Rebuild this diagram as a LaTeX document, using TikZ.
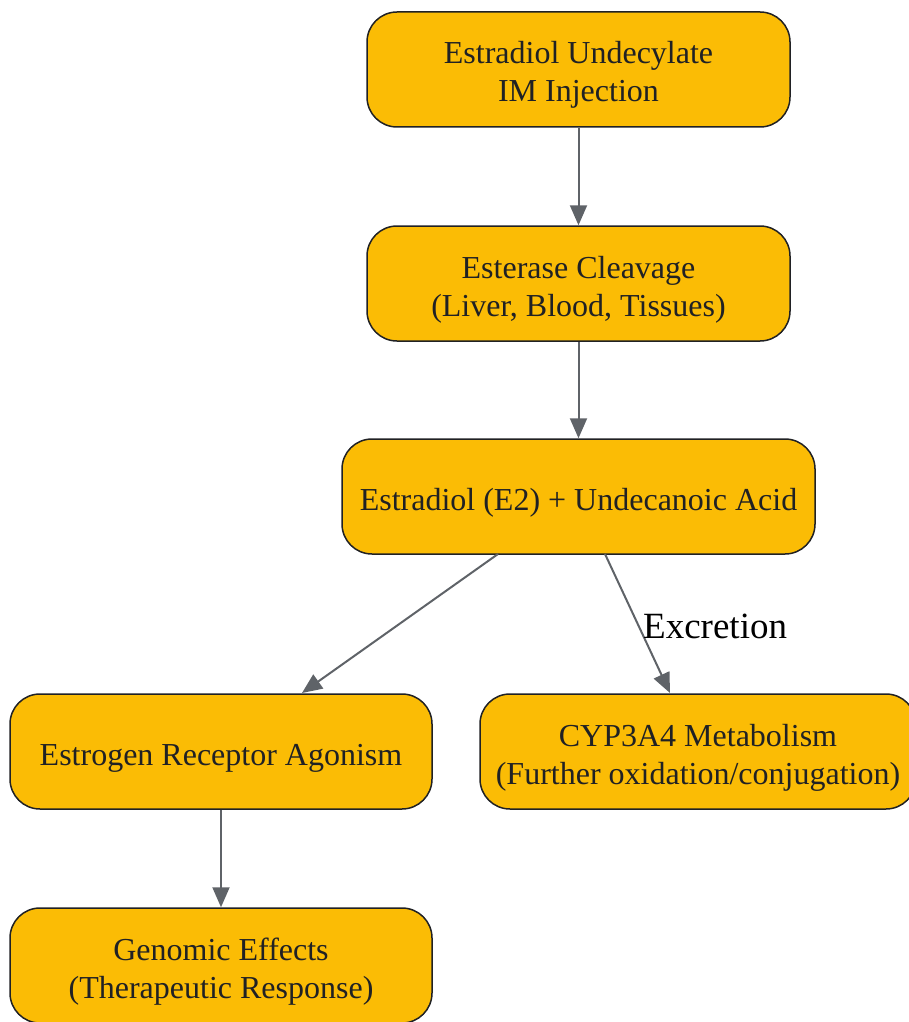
\documentclass[tikz,border=0pt]{standalone}
\usepackage{fontspec}
\setmainfont{Liberation Serif}
\usetikzlibrary{arrows.meta}
\definecolor{boxfill}{HTML}{FBBC05}
\definecolor{boxline}{HTML}{202124}
\definecolor{arrowc}{HTML}{5F6368}
\newcommand\mytopst{\rule{0pt}{36pt}}
\newcommand\mybotst{\rule[-9pt]{0pt}{9pt}}
\tikzset{
  proc/.style={draw=boxline, line width=1.5pt, fill=boxfill, rounded corners=30pt,
    minimum height=115pt, align=center, text=boxline, inner sep=0pt,
    font=\fontsize{32}{38}\selectfont},
  flow/.style={draw=arrowc, line width=2pt, -{Triangle[length=20pt,width=17pt]}},
  lbl/.style={font=\fontsize{37}{40}\selectfont, text=black, inner sep=0pt}
}
\begin{document}
\begin{tikzpicture}[x=1pt,y=-1pt]
\useasboundingbox (0,0) rectangle (908,1022);
\node[proc, minimum width=423pt] (a) at (578.5,69.5) {\mytopst Estradiol Undecylate\\IM Injection\mybotst};
\node[proc, minimum width=423pt] (b) at (578.5,283.5) {\mytopst Esterase Cleavage\\(Liver, Blood, Tissues)\mybotst};
\node[proc, minimum width=473pt] (c) at (578.5,496.5) {\mytopst Estradiol (E2) + Undecanoic Acid\mybotst};
\node[proc, minimum width=422pt] (d) at (221,751.5) {\mytopst Estrogen Receptor Agonism\mybotst};
\node[proc, minimum width=436pt] (e) at (698,751.5) {\mytopst CYP3A4 Metabolism\\(Further oxidation/conjugation)\mybotst};
\node[proc, minimum width=422pt] (f) at (221,965.5) {\mytopst Genomic Effects\\(Therapeutic Response)\mybotst};
\coordinate (c1) at (498,554);
\coordinate (c2) at (605,554);
\draw[flow] (a) -- (b);
\draw[flow] (b) -- (c);
\draw[flow] (c1) -- (302,693);
\draw[flow] (c2) -- (670,693);
\draw[flow] (d) -- (f);
\node[lbl, anchor=west] (x) at (643,626) {Excretion};
\end{tikzpicture}
\end{document}
